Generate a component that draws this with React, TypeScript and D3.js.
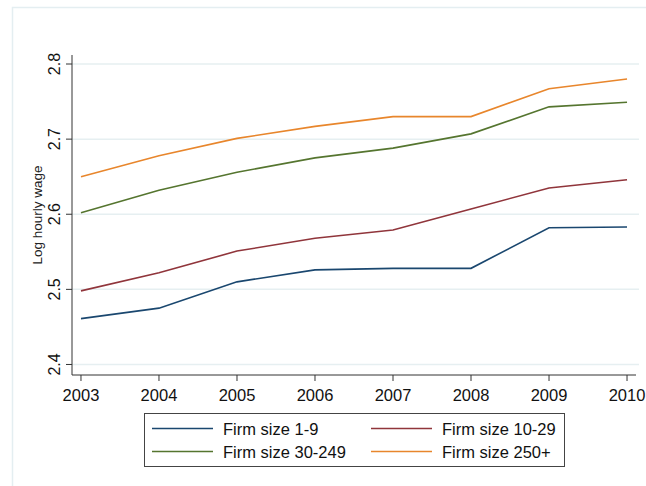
import React, { useEffect, useRef } from "react";
import * as d3 from "d3";

// datos
const years = [2003, 2004, 2005, 2006, 2007, 2008, 2009, 2010];
const size1to9 = [2.461, 2.475, 2.51, 2.526, 2.528, 2.528, 2.582, 2.583];
const size10to29 = [2.498, 2.522, 2.551, 2.568, 2.579, 2.607, 2.635, 2.646];
const size30to249 = [2.602, 2.632, 2.656, 2.675, 2.688, 2.707, 2.743, 2.749];
const size250plus = [2.65, 2.678, 2.701, 2.717, 2.73, 2.73, 2.767, 2.78];
const yTicks = [2.4, 2.5, 2.6, 2.7, 2.8];
const seriesNames = ["Firm size 1-9", "Firm size 10-29", "Firm size 30-249", "Firm size 250+"];
const seriesColors = ["#1a476f", "#90353b", "#55752f", "#e8862c"];

const App = () => {
  const ref = useRef<SVGSVGElement>(null);
  const width = 646;
  const height = 486;

  useEffect(() => {
    if (!ref.current) return;
    const svg = d3.select(ref.current);
    svg.selectAll("*").remove();
    const font = "Liberation Sans, Arial, sans-serif";

    // marco exterior
    svg
      .append("rect")
      .attr("x", 12.5)
      .attr("y", 7.5)
      .attr("width", 700)
      .attr("height", 600)
      .attr("fill", "white")
      .attr("stroke", "#e4eef1")
      .attr("stroke-width", 1.5);

    const left = 72;
    const right = 636;
    const top = 55;
    const bottom = 375;

    const x = d3.scaleLinear().domain([2002.885, 2010.115]).range([left, right]);
    const y = d3.scaleLinear().domain([2.386, 2.812]).range([bottom, top]);

    // lineas de grilla
    svg
      .selectAll(".grid")
      .data(yTicks)
      .enter()
      .append("line")
      .attr("x1", left)
      .attr("x2", 639)
      .attr("y1", (d) => y(d))
      .attr("y2", (d) => y(d))
      .attr("stroke", "#e6eff1")
      .attr("stroke-width", 1.5);

    // eje y
    const yAxis = svg.append("g").attr("transform", `translate(${left},0)`);
    yAxis
      .append("line")
      .attr("y1", top)
      .attr("y2", bottom)
      .attr("stroke", "#333")
      .attr("stroke-width", 1);
    yAxis
      .selectAll(".tick")
      .data(yTicks)
      .enter()
      .append("line")
      .attr("x1", -6)
      .attr("x2", 0)
      .attr("y1", (d) => y(d))
      .attr("y2", (d) => y(d))
      .attr("stroke", "#333");
    yAxis
      .selectAll(".lbl")
      .data(yTicks)
      .enter()
      .append("text")
      .attr("transform", (d) => `translate(-12,${y(d)}) rotate(-90)`)
      .attr("text-anchor", "middle")
      .attr("fill", "#111")
      .style("font-family", font)
      .style("font-size", "16px")
      .text((d) => d3.format(".1f")(d));
    svg
      .append("text")
      .attr("transform", `translate(42,215) rotate(-90)`)
      .attr("text-anchor", "middle")
      .attr("fill", "#222")
      .style("font-family", font)
      .style("font-size", "13.5px")
      .text("Log hourly wage");

    // eje x
    const xAxis = svg.append("g").attr("transform", `translate(0,${bottom})`);
    xAxis
      .append("line")
      .attr("x1", left)
      .attr("x2", right)
      .attr("stroke", "#333");
    xAxis
      .selectAll(".tick")
      .data(years)
      .enter()
      .append("line")
      .attr("x1", (d) => x(d))
      .attr("x2", (d) => x(d))
      .attr("y1", 0)
      .attr("y2", 6)
      .attr("stroke", "#333");
    xAxis
      .selectAll(".lbl")
      .data(years)
      .enter()
      .append("text")
      .attr("x", (d) => x(d))
      .attr("y", 26)
      .attr("text-anchor", "middle")
      .attr("fill", "#111")
      .style("font-family", font)
      .style("font-size", "16.5px")
      .text((d) => d);

    // series
    const allSeries = [size1to9, size10to29, size30to249, size250plus];
    const line = d3
      .line<number>()
      .x((_, i) => x(years[i]))
      .y((d) => y(d));
    allSeries.forEach((s, i) => {
      svg
        .append("path")
        .attr("d", line(s))
        .attr("fill", "none")
        .attr("stroke", seriesColors[i])
        .attr("stroke-width", 1.6);
    });

    // leyenda
    const legend = svg.append("g");
    legend
      .append("rect")
      .attr("x", 144.5)
      .attr("y", 413.5)
      .attr("width", 420)
      .attr("height", 53)
      .attr("fill", "white")
      .attr("stroke", "#444");
    seriesNames.forEach((name, i) => {
      const col = i % 2;
      const row = Math.floor(i / 2);
      const lx = col === 0 ? 152 : 371;
      const ly = row === 0 ? 428.5 : 451.5;
      legend
        .append("line")
        .attr("x1", lx)
        .attr("x2", lx + 61)
        .attr("y1", ly)
        .attr("y2", ly)
        .attr("stroke", seriesColors[i])
        .attr("stroke-width", 1.6);
      legend
        .append("text")
        .attr("x", lx + 71)
        .attr("y", ly + 6.5)
        .attr("fill", "#111")
        .style("font-family", font)
        .style("font-size", "16.5px")
        .text(name);
    });
  }, []);

  return (
    <svg
      ref={ref}
      width={width}
      height={height}
      style={{ position: "absolute", left: 0, top: 0, background: "white" }}
    ></svg>
  );
};

export default App;
